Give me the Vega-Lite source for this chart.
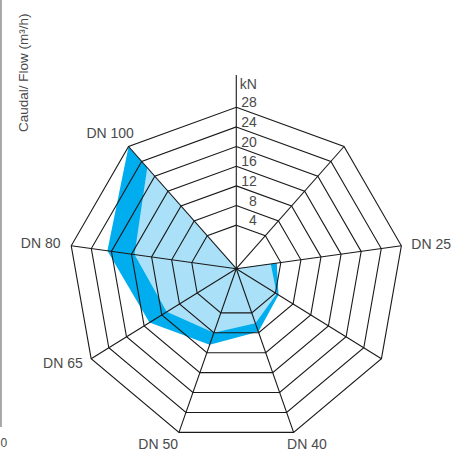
{
  "$schema": "https://vega.github.io/schema/vega-lite/v6.json",
  "width": 469,
  "height": 452,
  "autosize": {"type": "none"},
  "padding": 0,
  "background": "white",
  "config": {
    "view": {"stroke": null},
    "text": {"font": "Liberation Sans", "fontSize": 14, "fill": "#4a4a4a"}
  },
  "datasets": {
    "flow": [
      {"axis": 0, "band": "max", "kN": 0},
      {"axis": 1, "band": "max", "kN": 0},
      {"axis": 2, "band": "max", "kN": 3.2},
      {"axis": 3, "band": "max", "kN": 4.7},
      {"axis": 4, "band": "max", "kN": 7.8},
      {"axis": 5, "band": "max", "kN": 10.4},
      {"axis": 6, "band": "max", "kN": 14.8},
      {"axis": 7, "band": "max", "kN": 20.8},
      {"axis": 8, "band": "max", "kN": 28},
      {"axis": 0, "band": "min", "kN": 0},
      {"axis": 1, "band": "min", "kN": 0},
      {"axis": 2, "band": "min", "kN": 2.0},
      {"axis": 3, "band": "min", "kN": 4.3},
      {"axis": 4, "band": "min", "kN": 6.1},
      {"axis": 5, "band": "min", "kN": 8.0},
      {"axis": 6, "band": "min", "kN": 10.9},
      {"axis": 7, "band": "min", "kN": 15.4},
      {"axis": 8, "band": "min", "kN": 22.3}
    ],
    "rings": [
      {"kN": 4, "axis": [0, 1, 2, 3, 4, 5, 6, 7, 8]},
      {"kN": 8, "axis": [0, 1, 2, 3, 4, 5, 6, 7, 8]},
      {"kN": 12, "axis": [0, 1, 2, 3, 4, 5, 6, 7, 8]},
      {"kN": 16, "axis": [0, 1, 2, 3, 4, 5, 6, 7, 8]},
      {"kN": 20, "axis": [0, 1, 2, 3, 4, 5, 6, 7, 8]},
      {"kN": 24, "axis": [0, 1, 2, 3, 4, 5, 6, 7, 8]},
      {"kN": 28, "axis": [0, 1, 2, 3, 4, 5, 6, 7, 8]}
    ],
    "spokes": [
      {"axis": 0}, {"axis": 1}, {"axis": 2}, {"axis": 3}, {"axis": 4},
      {"axis": 5}, {"axis": 6}, {"axis": 7}, {"axis": 8}
    ],
    "ticks": [
      {"kN": 4}, {"kN": 8}, {"kN": 12}, {"kN": 16}, {"kN": 20}, {"kN": 24}, {"kN": 28}
    ],
    "labels": [
      {"axis": 2, "label": "DN 25", "kN": 28},
      {"axis": 4, "label": "DN 40", "kN": 28},
      {"axis": 5, "label": "DN 50", "kN": 28},
      {"axis": 6, "label": "DN 65", "kN": 28},
      {"axis": 7, "label": "DN 80", "kN": 28},
      {"axis": 8, "label": "DN 100", "kN": 28}
    ],
    "one": [{"id": 1}]
  },
  "encoding": {
    "x": {"field": "x", "type": "quantitative", "scale": {"domain": [-1.464, 1.4418], "nice": false, "zero": false}, "axis": null},
    "y": {"field": "y", "type": "quantitative", "scale": {"domain": [-1.1357, 1.6648], "nice": false, "zero": false}, "axis": null}
  },
  "layer": [
    {
      "data": {"name": "flow"},
      "transform": [
        {"filter": "datum.band == 'max'"},
        {"calculate": "PI/2 - datum.axis*2*PI/9", "as": "th"},
        {"calculate": "datum.kN == 0 ? 0 : 0.148 + 0.03043*datum.kN", "as": "f"},
        {"calculate": "datum.f*1.0384*cos(datum.th)", "as": "x"},
        {"calculate": "datum.f*(1.0384*sin(datum.th) - 0.0384)", "as": "y"}
      ],
      "mark": {"type": "line", "interpolate": "linear-closed", "fill": "#00aeef", "stroke": null, "strokeWidth": 0},
      "encoding": {"order": {"field": "axis", "type": "quantitative"}}
    },
    {
      "data": {"name": "flow"},
      "transform": [
        {"filter": "datum.band == 'min'"},
        {"calculate": "PI/2 - datum.axis*2*PI/9", "as": "th"},
        {"calculate": "datum.kN == 0 ? 0 : 0.148 + 0.03043*datum.kN", "as": "f"},
        {"calculate": "datum.f*1.0384*cos(datum.th)", "as": "x"},
        {"calculate": "datum.f*(1.0384*sin(datum.th) - 0.0384)", "as": "y"}
      ],
      "mark": {"type": "line", "interpolate": "linear-closed", "fill": "#abe1f8", "stroke": null, "strokeWidth": 0},
      "encoding": {"order": {"field": "axis", "type": "quantitative"}}
    },
    {
      "data": {"name": "rings"},
      "transform": [
        {"flatten": ["axis"]},
        {"calculate": "PI/2 - datum.axis*2*PI/9", "as": "th"},
        {"calculate": "0.148 + 0.03043*datum.kN", "as": "f"},
        {"calculate": "datum.f*1.0384*cos(datum.th)", "as": "x"},
        {"calculate": "datum.f*(1.0384*sin(datum.th) - 0.0384)", "as": "y"}
      ],
      "mark": {"type": "line", "interpolate": "linear-closed", "stroke": "#1a1a1a", "strokeWidth": 1.1},
      "encoding": {
        "detail": {"field": "kN", "type": "nominal"},
        "order": {"field": "axis", "type": "quantitative"}
      }
    },
    {
      "data": {"name": "spokes"},
      "transform": [
        {"calculate": "PI/2 - datum.axis*2*PI/9", "as": "th"},
        {"calculate": "0", "as": "x"},
        {"calculate": "0", "as": "y"},
        {"calculate": "1.0384*cos(datum.th)", "as": "vx"},
        {"calculate": "1.0384*sin(datum.th) - 0.0384", "as": "vy"}
      ],
      "mark": {"type": "rule", "stroke": "#1a1a1a", "strokeWidth": 1.1},
      "encoding": {
        "x2": {"field": "vx"},
        "y2": {"field": "vy"}
      }
    },
    {
      "data": {"name": "one"},
      "transform": [
        {"calculate": "0", "as": "x"},
        {"calculate": "1", "as": "y"},
        {"calculate": "1.2", "as": "ytop"}
      ],
      "mark": {"type": "rule", "stroke": "#1a1a1a", "strokeWidth": 1.1},
      "encoding": {"y2": {"field": "ytop"}}
    },
    {
      "data": {"name": "ticks"},
      "transform": [
        {"calculate": "0", "as": "x"},
        {"calculate": "0.148 + 0.03043*datum.kN", "as": "y"}
      ],
      "mark": {"type": "text", "align": "right", "baseline": "alphabetic", "dx": 20.5, "dy": 0},
      "encoding": {"text": {"field": "kN", "type": "quantitative"}}
    },
    {
      "data": {"name": "one"},
      "transform": [
        {"calculate": "0", "as": "x"},
        {"calculate": "1.113", "as": "y"}
      ],
      "mark": {"type": "text", "align": "right", "baseline": "alphabetic", "dx": 20.5, "text": "kN"}
    },
    {
      "data": {"name": "labels"},
      "transform": [
        {"calculate": "PI/2 - datum.axis*2*PI/9", "as": "th"},
        {"calculate": "0.148 + 0.03043*datum.kN", "as": "f"},
        {"calculate": "datum.f*1.0384*cos(datum.th)", "as": "x"},
        {"calculate": "datum.f*(1.0384*sin(datum.th) - 0.0384)", "as": "y"}
      ],
      "encoding": {"text": {"field": "label", "type": "nominal"}},
      "layer": [
        {"transform": [{"filter": "datum.label == 'DN 100'"}], "mark": {"type": "text", "align": "right", "baseline": "alphabetic", "dx": 5.3, "dy": -9}},
        {"transform": [{"filter": "datum.label == 'DN 80'"}], "mark": {"type": "text", "align": "right", "baseline": "alphabetic", "dx": -10.7, "dy": 2.3}},
        {"transform": [{"filter": "datum.label == 'DN 65'"}], "mark": {"type": "text", "align": "right", "baseline": "alphabetic", "dx": -8.4, "dy": 9}},
        {"transform": [{"filter": "datum.label == 'DN 50'"}], "mark": {"type": "text", "align": "right", "baseline": "alphabetic", "dx": -1, "dy": 16.5}},
        {"transform": [{"filter": "datum.label == 'DN 40'"}], "mark": {"type": "text", "align": "left", "baseline": "alphabetic", "dx": -6.6, "dy": 16.5}},
        {"transform": [{"filter": "datum.label == 'DN 25'"}], "mark": {"type": "text", "align": "left", "baseline": "alphabetic", "dx": 10, "dy": 3}}
      ]
    },
    {
      "data": {"name": "one"},
      "transform": [
        {"calculate": "-1.4579", "as": "x"},
        {"calculate": "1.6648", "as": "y"},
        {"calculate": "-0.9808", "as": "ybot"}
      ],
      "mark": {"type": "rule", "stroke": "#555555", "strokeWidth": 1},
      "encoding": {"y2": {"field": "ybot"}}
    },
    {
      "data": {"name": "one"},
      "transform": [
        {"calculate": "-1.4615", "as": "x"},
        {"calculate": "-1.1028", "as": "y"}
      ],
      "mark": {"type": "text", "align": "left", "baseline": "alphabetic", "fontSize": 12, "text": "0"}
    },
    {
      "data": {"name": "one"},
      "transform": [
        {"calculate": "-1.2924", "as": "x"},
        {"calculate": "1.2144", "as": "y"}
      ],
      "mark": {"type": "text", "align": "center", "baseline": "alphabetic", "angle": 270, "fontSize": 13.5, "text": "Caudal/ Flow (m³/h)"}
    }
  ]
}
